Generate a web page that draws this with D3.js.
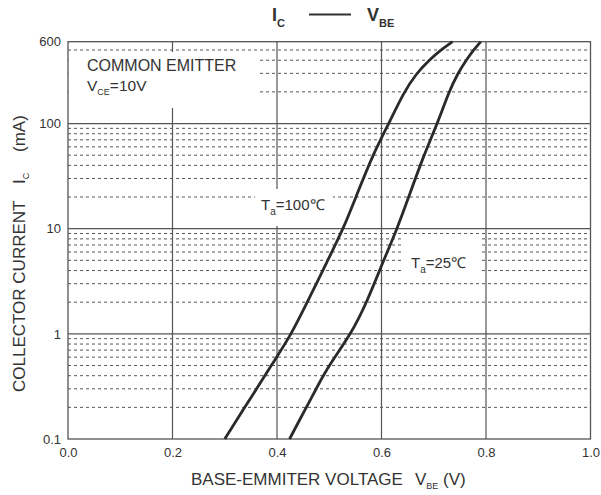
<!DOCTYPE html>
<html>
<head>
<meta charset="utf-8">
<script src="https://cdn.jsdelivr.net/npm/d3@7"></script>
<style>
  body { margin: 0; background: #fff; }
  text { font-family: "Liberation Sans", Arial, sans-serif; fill: #333; white-space: pre; }
</style>
</head>
<body>
<div id="chart"></div>
<script>
// Ta = 100 C curve
var vbe100 = [0.300, 0.338, 0.361, 0.389, 0.428, 0.458, 0.497, 0.527, 0.551, 0.583, 0.614, 0.643, 0.667, 0.691, 0.713, 0.736];
var ic100  = [0.1,   0.2,   0.3,   0.5,   1,     2,     5,     10,    20,    50,    100,   200,   300,   400,   500,   600];
// Ta = 25 C curve
var vbe25 = [0.424, 0.456, 0.475, 0.499, 0.542, 0.572, 0.604, 0.630, 0.652, 0.681, 0.707, 0.729, 0.746, 0.762, 0.776, 0.790];
var ic25  = [0.1,   0.2,   0.3,   0.5,   1,     2,     5,     10,    20,    50,    100,   200,   300,   400,   500,   600];

var xTicks = [0, 0.2, 0.4, 0.6, 0.8, 1.0];
var yTicks = [0.1, 1, 10, 100, 600];
var yMajor = [1, 10, 100];
var yMinor = [0.2,0.3,0.4,0.5,0.6,0.7,0.8,0.9, 2,3,4,5,6,7,8,9, 20,30,40,50,60,70,80,90, 200,300,400,500];

var margin = {top: 41.7, right: 10.5, bottom: 56, left: 68},
    width = 601 - margin.left - margin.right,
    height = 495 - margin.top - margin.bottom;

var svg = d3.select("#chart").append("svg")
  .attr("width", 601)
  .attr("height", 495);

var g = svg.append("g").attr("transform", `translate(${margin.left},${margin.top})`);

var x = d3.scaleLinear().domain([0, 1]).range([0, width]);
var y = d3.scaleLog().domain([0.1, 600]).range([height, 0]);

// minor dotted grid
g.selectAll(".minor").data(yMinor).enter().append("line")
  .attr("x1", 0).attr("x2", width)
  .attr("y1", d => y(d)).attr("y2", d => y(d))
  .attr("stroke", "#555").attr("stroke-width", 1)
  .attr("stroke-dasharray", "3,3");

// major grid
g.selectAll(".hmaj").data(yMajor).enter().append("line")
  .attr("x1", 0).attr("x2", width)
  .attr("y1", d => y(d)).attr("y2", d => y(d))
  .attr("stroke", "#555").attr("stroke-width", 1.2);
g.selectAll(".vmaj").data(xTicks.slice(1, 5)).enter().append("line")
  .attr("y1", 0).attr("y2", height)
  .attr("x1", d => x(d)).attr("x2", d => x(d))
  .attr("stroke", "#555").attr("stroke-width", 1.2);

// white boxes behind annotations
g.append("rect").attr("x", 0.8).attr("y", 52 - margin.top).attr("width", 257 - margin.left).attr("height", 56).attr("fill", "#fff");
g.append("rect").attr("x", 255 - margin.left).attr("y", 189 - margin.top).attr("width", 78).attr("height", 37).attr("fill", "#fff");
g.append("rect").attr("x", 403 - margin.left).attr("y", 236 - margin.top).attr("width", 76).attr("height", 40).attr("fill", "#fff");

// frame
g.append("rect").attr("width", width).attr("height", height)
  .attr("fill", "none").attr("stroke", "#555").attr("stroke-width", 1.3);

// curves
var line = d3.line()
  .x(d => x(d[0]))
  .y(d => y(d[1]))
  .curve(d3.curveBasis);

[[vbe100, ic100], [vbe25, ic25]].forEach(function(s) {
  g.append("path")
    .attr("d", line(d3.zip(s[0], s[1])))
    .attr("fill", "none")
    .attr("stroke", "#2a2a2a")
    .attr("stroke-width", 2.8);
});

// axes
var xAxis = g.append("g").attr("transform", `translate(0,${height})`)
  .call(d3.axisBottom(x).tickValues(xTicks).tickFormat(d3.format(".1f")).tickSize(0).tickPadding(9));
var yAxis = g.append("g")
  .call(d3.axisLeft(y).tickValues(yTicks).tickFormat(d => d < 1 ? "0.1" : String(d)).tickSize(0).tickPadding(7));
[xAxis, yAxis].forEach(function(a) {
  a.select(".domain").remove();
  a.selectAll("text").style("font-size", "13px").style("font-family", "Liberation Sans, Arial, sans-serif").attr("fill", "#333");
});

// title
var title = svg.append("text").attr("x", 272).attr("y", 21).style("font-size", "18px").style("font-weight", "bold");
title.append("tspan").text("I");
title.append("tspan").attr("dy", 6).style("font-size", "11px").text("C");
svg.append("line").attr("x1", 309).attr("x2", 351).attr("y1", 14.5).attr("y2", 14.5).attr("stroke", "#333").attr("stroke-width", 2);
var title2 = svg.append("text").attr("x", 367).attr("y", 21).style("font-size", "18px").style("font-weight", "bold");
title2.append("tspan").text("V");
title2.append("tspan").attr("dy", 6).style("font-size", "11px").text("BE");

// x axis title
var xt = svg.append("text").attr("x", 191).attr("y", 485).style("font-size", "17px");
xt.append("tspan").text("BASE-EMMITER VOLTAGE");
xt.append("tspan").attr("x", 415).text("V");
xt.append("tspan").attr("dy", 4).style("font-size", "9px").text("BE");
xt.append("tspan").attr("x", 443).attr("dy", -4).text("(V)");

// y axis title (rotated, positions measured along the text)
var yt = svg.append("text").attr("transform", "translate(25,392) rotate(-90)").style("font-size", "17px");
yt.append("tspan").attr("x", 0).text("COLLECTOR CURRENT");
yt.append("tspan").attr("x", 208).text("I");
yt.append("tspan").attr("dy", 4).style("font-size", "9px").text("C");
yt.append("tspan").attr("x", 240).attr("dy", -4).text("(mA)");

// annotations
svg.append("text").attr("x", 87).attr("y", 71).style("font-size", "16px").text("COMMON EMITTER");
var vce = svg.append("text").attr("x", 87).attr("y", 91).style("font-size", "15.5px");
vce.append("tspan").text("V");
vce.append("tspan").attr("dy", 4).style("font-size", "9px").text("CE");
vce.append("tspan").attr("dy", -4).text("=10V");

var t100 = svg.append("text").attr("x", 261).attr("y", 210).style("font-size", "15px");
t100.append("tspan").text("T");
t100.append("tspan").attr("dy", 5).style("font-size", "10px").text("a");
t100.append("tspan").attr("dy", -5).text("=100\u2103");

var t25 = svg.append("text").attr("x", 411).attr("y", 268).style("font-size", "15px");
t25.append("tspan").text("T");
t25.append("tspan").attr("dy", 5).style("font-size", "10px").text("a");
t25.append("tspan").attr("dy", -5).text("=25\u2103");
</script>
</body>
</html>
